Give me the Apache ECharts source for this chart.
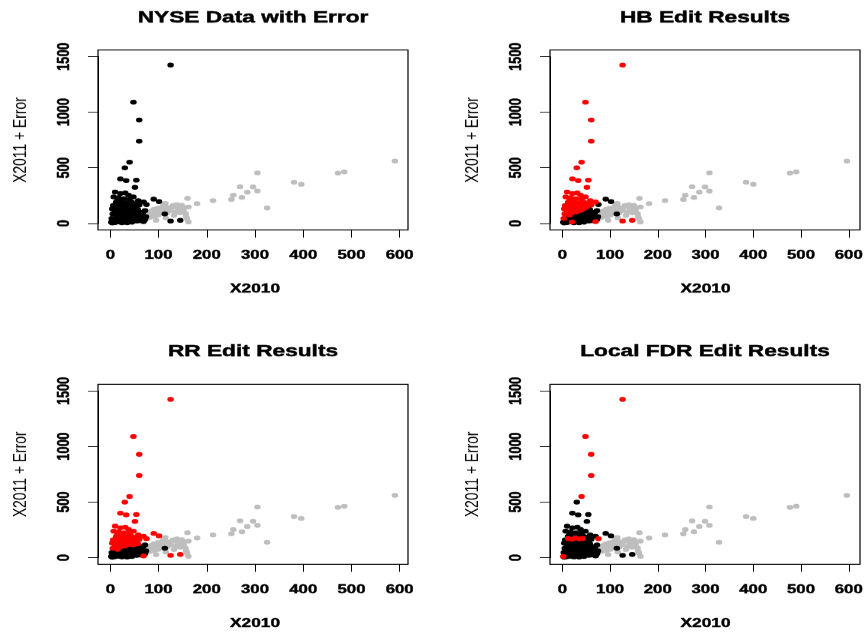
<!DOCTYPE html>
<html>
<head>
<meta charset="utf-8">
<script src="https://cdn.jsdelivr.net/npm/echarts@6/dist/echarts.min.js"></script>
<style>
  html, body { margin: 0; padding: 0; overflow: hidden; background: #fff; }
  /* the reference is squashed vertically, so draw tall and scale down */
  #main { width: 866px; height: 847px; transform: scaleY(0.75); transform-origin: 0 0; }
</style>
</head>
<body>
<div id="main"></div>
<script>
// panel titles
var panelTitles = ['NYSE Data with Error', 'HB Edit Results', 'RR Edit Results', 'Local FDR Edit Results'];
var xName = 'X2010';
var yName = 'X2011 + Error';
var xTicks = [0, 100, 200, 300, 400, 500, 600];
var yTicks = [0, 500, 1000, 1500];

// records without error (grey everywhere)
var grayX = [590, 485, 472, 381, 396, 305, 269, 296, 305, 284, 273, 255, 251, 213, 325, 180, 160, 162, 150, 138, 156, 159, 162, 95,
  114, 128, 138, 148, 152, 135, 120, 110, 100, 95, 88, 80, 105, 115, 125, 90, 98, 108, 118, 85, 75, 140, 130, 70, 82, 92, 100, 110, 145, 157, 115, 132];
var grayY = [560, 462, 452, 370, 352, 455, 330, 328, 290, 280, 233, 254, 214, 205, 138, 178, 225, 148, 150, 102, 88, 42, 12, 27,
  180, 147, 168, 162, 124, 100, 130, 120, 110, 95, 80, 70, 140, 150, 115, 125, 135, 100, 95, 110, 90, 130, 160, 60, 55, 65, 75, 160, 95, 60, 50, 72];

// records with error (black in the first panel)
var errX = [125, 48, 60, 60, 40, 30, 21, 33, 54, 51, 125, 145, 69, 90, 101, 75, 72, 113, 12, 20, 27, 35, 42, 2, 20,
  4, 6, 10, 14, 18, 22, 27, 32, 37, 42, 48, 55, 62,
  5, 12, 24, 25, 30, 35, 40, 8, 16, 45, 66, 72, 74, 68, 58,
  3, 8, 13, 17, 22, 26, 31, 36, 41, 46, 52, 58, 65,
  5, 10, 15, 20, 25, 30, 35, 40, 45, 50, 56, 62,
  4, 9, 14, 19, 24, 29, 34, 39, 44, 50, 57,
  8, 20, 26, 36, 42, 48, 54, 30,
  6, 12, 17, 23, 28, 33, 38, 45, 52, 60,
  10, 21, 31, 7, 17, 38, 48, 40, 15, 28, 58, 69];
var errY = [1425, 1090, 930, 740, 550, 500, 400, 385, 388, 325, 20, 28, 15, 218, 196, 170, 115, 85, 172, 165, 178, 168, 172, 10, 12,
  4, 12, 8, 20, 15, 25, 10, 18, 22, 14, 28, 20, 24,
  25, 30, 6, 35, 28, 5, 32, 18, 40, 10, 62, 35, 60, 100, 110,
  45, 38, 60, 50, 42, 65, 55, 35, 48, 62, 40, 55, 45,
  85, 100, 75, 95, 80, 105, 90, 78, 100, 85, 95, 80,
  130, 120, 145, 115, 135, 125, 140, 118, 132, 145, 125,
  150, 130, 170, 125, 150, 115, 130, 140,
  160, 190, 150, 195, 155, 185, 160, 190, 175, 165,
  283, 268, 274, 238, 232, 253, 238, 214, 210, 222, 205, 193];

// 1 = flagged (red) by each edit method
var hbFlag = [1, 1, 1, 1, 1, 1, 1, 1, 1, 1, 1, 1, 1, 0, 0, 0, 0, 0, 1, 1, 1, 1, 1, 0, 1,
  0, 0, 0, 0, 0, 0, 0, 0, 0, 0, 0, 0, 0,
  0, 0, 0, 0, 0, 0, 0, 0, 0, 0, 0, 0, 0, 0, 0,
  1, 0, 0, 0, 0, 0, 0, 0, 0, 0, 0, 0, 0,
  1, 1, 1, 1, 0, 1, 0, 0, 0, 0, 0, 0,
  1, 1, 1, 1, 1, 1, 1, 1, 1, 1, 0,
  1, 1, 1, 1, 1, 0, 0, 1,
  1, 1, 1, 1, 1, 1, 1, 1, 1, 1,
  1, 1, 1, 1, 1, 1, 1, 1, 1, 1, 1, 1];
var rrFlag = [1, 1, 1, 1, 1, 1, 1, 1, 1, 1, 1, 1, 1, 1, 1, 1, 0, 0, 1, 1, 1, 1, 1, 0, 0,
  0, 0, 0, 0, 0, 0, 0, 0, 0, 0, 0, 0, 0,
  0, 0, 0, 0, 0, 0, 0, 0, 0, 0, 0, 0, 0, 0, 0,
  0, 0, 0, 0, 0, 0, 0, 0, 0, 0, 0, 0, 0,
  1, 1, 1, 1, 0, 1, 0, 0, 0, 0, 0, 0,
  1, 1, 1, 1, 1, 1, 1, 1, 1, 1, 1,
  1, 1, 1, 1, 1, 1, 1, 1,
  1, 1, 1, 1, 1, 1, 1, 1, 1, 1,
  1, 1, 1, 1, 1, 1, 1, 1, 1, 1, 1, 1];
var lfdrFlag = [1, 1, 1, 1, 1, 0, 0, 0, 0, 0, 0, 0, 0, 0, 0, 1, 0, 0, 1, 1, 1, 1, 1, 1, 0,
  0, 0, 0, 0, 0, 0, 0, 0, 0, 0, 0, 0, 0,
  0, 0, 0, 0, 0, 0, 0, 0, 0, 0, 0, 0, 0, 0, 0,
  0, 0, 0, 0, 0, 0, 0, 0, 0, 0, 0, 0, 0,
  0, 0, 0, 0, 0, 0, 0, 0, 0, 0, 0, 0,
  0, 0, 0, 0, 0, 0, 0, 0, 0, 0, 0,
  0, 0, 0, 0, 0, 0, 0, 0,
  0, 0, 0, 0, 0, 0, 0, 0, 0, 0,
  0, 0, 0, 0, 0, 0, 0, 0, 0, 0, 0, 0];
var panelFlags = [null, hbFlag, rrFlag, lfdrFlag];

var FONT = 'Liberation Sans, Arial, sans-serif';
var XLIM = [-25.5, 617.2], YLIM = [-60, 1560];
var BOX_W = 310, BOX_H = 240;
var boxLeft = [98, 550], boxTop = [66.7, 512.4];
var plain = function (v) { return String(v); };
// thicken text a little, the reference is heavy and blurred
var heavy = { textBorderColor: '#000', textBorderWidth: 0.5 };

var chart = echarts.init(document.getElementById('main'));
var grids = [], xAxes = [], yAxes = [], series = [], graphics = [];

panelTitles.forEach(function (title, p) {
  var left = boxLeft[p % 2], top = boxTop[Math.floor(p / 2)];
  var sx = BOX_W / (XLIM[1] - XLIM[0]), sy = BOX_H / (YLIM[1] - YLIM[0]);
  var x0 = left + (xTicks[0] - XLIM[0]) * sx;
  var xw = (xTicks[xTicks.length - 1] - xTicks[0]) * sx;
  var yT = top + (YLIM[1] - yTicks[yTicks.length - 1]) * sy;
  var yh = (yTicks[yTicks.length - 1] - yTicks[0]) * sy;
  var g = grids.length;

  // plot box
  grids.push({ left: left, top: top, width: BOX_W, height: BOX_H, show: true, borderColor: '#000', borderWidth: 1.2, backgroundColor: 'transparent' });
  // x axis strip (spans 0..600 only, like R)
  grids.push({ left: x0, top: top + BOX_H - 1, width: xw, height: 1 });
  // y axis strip (spans 0..1500)
  grids.push({ left: left, top: yT, width: 1, height: yh });

  xAxes.push({ gridIndex: g, type: 'value', min: XLIM[0], max: XLIM[1], show: false });
  yAxes.push({ gridIndex: g, type: 'value', min: YLIM[0], max: YLIM[1], show: false });

  xAxes.push({
    gridIndex: g + 1, type: 'value', position: 'bottom',
    min: xTicks[0], max: xTicks[xTicks.length - 1], interval: xTicks[1] - xTicks[0],
    splitLine: { show: false },
    axisLine: { show: true, lineStyle: { color: '#000', width: 1 } },
    axisTick: { show: true, inside: false, length: 10, lineStyle: { color: '#000', width: 1 } },
    axisLabel: Object.assign({ formatter: plain, margin: 25, color: '#000', fontFamily: FONT, fontWeight: 'bold', fontSize: 16.8, lineHeight: 17, showMinLabel: true, showMaxLabel: true }, heavy),
    name: xName, nameLocation: 'middle', nameGap: 70,
    nameTextStyle: Object.assign({ color: '#000', fontFamily: FONT, fontWeight: 'bold', fontSize: 17.3, lineHeight: 18 }, heavy)
  });
  yAxes.push({ gridIndex: g + 1, type: 'value', show: false });

  xAxes.push({ gridIndex: g + 2, type: 'value', show: false });
  yAxes.push({
    gridIndex: g + 2, type: 'value', position: 'left',
    min: yTicks[0], max: yTicks[yTicks.length - 1], interval: yTicks[1] - yTicks[0],
    splitLine: { show: false },
    axisLine: { show: true, lineStyle: { color: '#000', width: 1 } },
    axisTick: { show: true, inside: false, length: 10, lineStyle: { color: '#000', width: 1 } },
    axisLabel: Object.assign({ formatter: plain, rotate: 90, margin: 25, color: '#000', fontFamily: FONT, fontWeight: 'bold', fontSize: 16.8, lineHeight: 17, showMinLabel: true, showMaxLabel: true }, heavy),
    name: yName, nameLocation: 'middle', nameGap: 68, nameRotate: 90,
    nameTextStyle: { color: '#000', fontFamily: FONT, fontSize: 18.5, lineHeight: 19 }
  });

  graphics.push({
    type: 'text', x: left + BOX_W / 2, y: p < 2 ? 23.3 : 469,
    style: { text: title, align: 'center', verticalAlign: 'middle', fill: '#000', stroke: '#000', lineWidth: 0.6, fontFamily: FONT, fontWeight: 'bold', fontSize: 22.7 }
  });

  var flags = panelFlags[p];
  var grayData = grayX.map(function (x, i) { return [x, grayY[i]]; });
  var blackData = [], redData = [];
  errX.forEach(function (x, i) {
    if (flags && flags[i]) redData.push([x, errY[i]]);
    else blackData.push([x, errY[i]]);
  });
  [[grayData, '#bebebe'], [blackData, '#000000'], [redData, '#ff0000']].forEach(function (s) {
    series.push({
      type: 'scatter', xAxisIndex: g, yAxisIndex: g, data: s[0],
      symbol: 'circle', symbolSize: 6.5, itemStyle: { color: s[1], opacity: 1 },
      silent: true
    });
  });
});

chart.setOption({
  animation: false,
  backgroundColor: '#fff',
  grid: grids,
  xAxis: xAxes,
  yAxis: yAxes,
  series: series,
  graphic: graphics
});
</script>
</body>
</html>
